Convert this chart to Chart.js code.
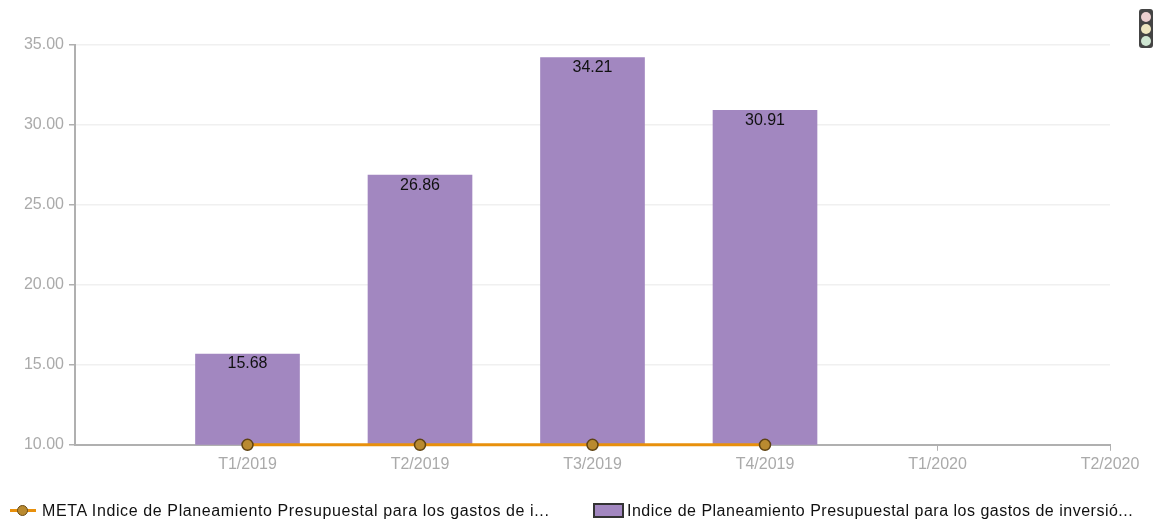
<!DOCTYPE html>
<html><head><meta charset="utf-8">
<script src="https://cdn.jsdelivr.net/npm/chart.js@4"></script>
<style>
html,body{margin:0;padding:0;background:#fff;overflow:hidden}
#wrap{position:relative;width:1156px;height:520px}
canvas{position:absolute;left:0;top:0}
.lg{position:absolute;top:502px;height:20px;line-height:20px;font:16px "Liberation Sans",Arial,sans-serif;color:#111;white-space:nowrap}
#l1{left:42px;letter-spacing:.61px}
#l2{left:627px;letter-spacing:.5px}
#s2{position:absolute;left:593px;top:503px;width:27px;height:11px;background:#a287c0;border:2px solid #333}
#s1{position:absolute;left:10px;top:509px;width:26px;height:3px;background:#e8900c}
#s1d{position:absolute;left:17px;top:505px;width:9px;height:9px;border-radius:50%;background:#b98a30;border:1px solid #6a4a14}
#tl{position:absolute;left:1139px;top:9px;width:14px;height:39px;background:#444;border-radius:3px}
#tl i{position:absolute;left:2px;width:10px;height:10px;border-radius:50%}
</style></head>
<body><div id="wrap">
<canvas id="c" width="1156" height="520"></canvas>
<div id="s1"></div><div id="s1d"></div><div class="lg" id="l1"></div>
<div id="s2"></div><div class="lg" id="l2"></div>
<div id="tl"><i style="top:3px;background:#eccfcf"></i><i style="top:15px;background:#eee6c0"></i><i style="top:27px;background:#cfe6d2"></i></div>
</div>
<script>
const categories=['','T1/2019','T2/2019','T3/2019','T4/2019','T1/2020','T2/2020'];
const barValues=[null,15.68,26.86,34.21,30.91,null,null];
const metaValues=[null,10,10,10,10,null,null];
const yTicks=[10,15,20,25,30,35];
const metaName='META Indice de Planeamiento Presupuestal para los gastos de i...';
const barName='Indice de Planeamiento Presupuestal para los gastos de inversió...';
document.getElementById('l1').textContent=metaName;
document.getElementById('l2').textContent=barName;
const barLabels={id:'barLabels',afterDatasetsDraw(ch){
  const ctx=ch.ctx,meta=ch.getDatasetMeta(1);
  ctx.save();ctx.font='16px "Liberation Sans",Arial,sans-serif';ctx.fillStyle='#111';ctx.textAlign='center';ctx.textBaseline='middle';
  meta.data.forEach((b,i)=>{if(barValues[i]!=null)ctx.fillText(barValues[i].toFixed(2),b.x,b.y+10);});
  ctx.restore();
}};
new Chart(document.getElementById('c'),{
  data:{labels:categories,datasets:[
    {type:'line',label:metaName,data:metaValues,order:0,borderColor:'#e8900c',borderWidth:3,clip:false,tension:0,
     pointRadius:5.5,pointHoverRadius:5.5,pointBackgroundColor:'#b98a30',pointBorderColor:'#5f4312',pointBorderWidth:1.5},
    {type:'bar',label:barName,data:barValues,order:1,backgroundColor:'#a287c0',barThickness:104}
  ]},
  plugins:[barLabels],
  options:{responsive:false,animation:false,
    layout:{padding:{left:0,right:46,top:45,bottom:42}},
    plugins:{legend:{display:false},tooltip:{enabled:false}},
    scales:{
      x:{offset:false,
        grid:{display:true,offset:false,drawOnChartArea:false,drawTicks:true,tickLength:6,color:c=>c.index===0?'rgba(0,0,0,0)':'#b0b0b0'},
        border:{color:'#b0b0b0',width:2},
        ticks:{color:'#aaaaaa',font:{family:'"Liberation Sans",Arial,sans-serif',size:16},autoSkip:false,maxRotation:0,padding:4}},
      y:{min:10,max:35,
        afterBuildTicks(s){s.ticks=yTicks.map(v=>({value:v}));},
        afterFit(s){s.width=75;},
        grid:{color:'#f0f0f0',lineWidth:1.5,tickColor:'#b0b0b0',tickLength:6},
        border:{color:'#b0b0b0',width:2},
        ticks:{color:'#aaaaaa',font:{family:'"Liberation Sans",Arial,sans-serif',size:16},padding:5,callback:v=>Number(v).toFixed(2)}}
    }}
});
</script></body></html>
